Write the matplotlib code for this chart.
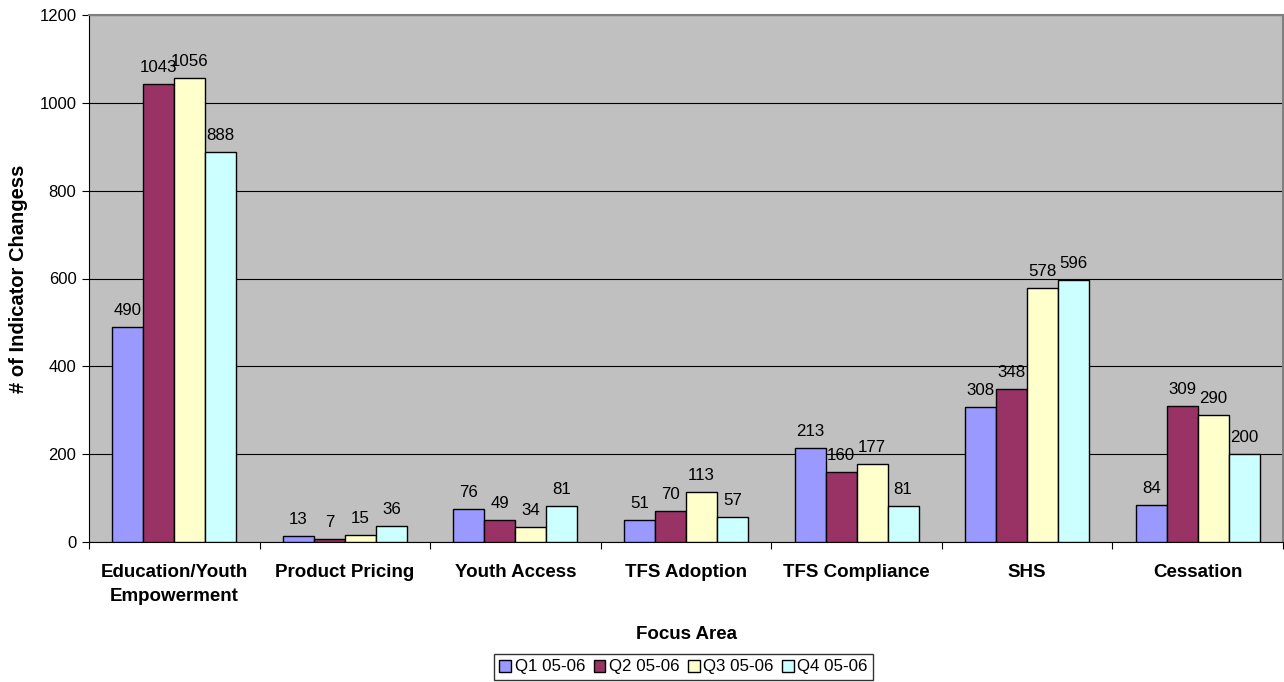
import matplotlib
matplotlib.use("Agg")
import matplotlib.pyplot as plt
import numpy as np

plt.rcParams['font.family'] = ['Liberation Sans', 'DejaVu Sans']

categories = ["Education/Youth\nEmpowerment", "Product Pricing", "Youth Access",
              "TFS Adoption", "TFS Compliance", "SHS", "Cessation"]
series_names = ["Q1 05-06", "Q2 05-06", "Q3 05-06", "Q4 05-06"]
q1 = [490, 13, 76, 51, 213, 308, 84]
q2 = [1043, 7, 49, 70, 160, 348, 309]
q3 = [1056, 15, 34, 113, 177, 578, 290]
q4 = [888, 36, 81, 57, 81, 596, 200]
series_values = [q1, q2, q3, q4]
colors = ["#9999FF", "#993366", "#FFFFCC", "#CCFFFF"]

fig = plt.figure(figsize=(12.84, 6.82), dpi=100)
ax = fig.add_axes([89 / 1284, 1 - 542 / 682, 1194 / 1284, 527 / 682])
ax.set_facecolor("#C0C0C0")

x = np.arange(len(categories))
n = len(series_values)
width = 1.0 / (n + 1.5)

ax.set_axisbelow(True)
ax.yaxis.grid(True, color="black", linewidth=0.8)

for i, (name, vals, col) in enumerate(zip(series_names, series_values, colors)):
    pos = x + (i - (n - 1) / 2) * width
    bars = ax.bar(pos, vals, width=width, color=col, edgecolor="black",
                  linewidth=1.0, label=name, zorder=3)
    for b, v in zip(bars, vals):
        ax.annotate(str(v), (b.get_x() + b.get_width() / 2, v),
                    xytext=(0, 6.5), textcoords="offset points",
                    ha="center", va="bottom", fontsize=12.2, zorder=4)

ax.set_xlim(-0.5, len(categories) - 0.5)
ax.set_ylim(0, 1200)
ax.set_yticks(np.arange(0, 1201, 200))
ax.tick_params(axis="y", labelsize=12, length=5, width=0.8, direction="out", pad=4)

ax.set_xticks(x)
ax.set_xticklabels(categories, fontsize=13.5, fontweight="bold", linespacing=1.55)
ax.tick_params(axis="x", which="major", length=0, pad=16)
ax.set_xticks(np.arange(-0.5, len(categories), 1.0), minor=True)
ax.tick_params(axis="x", which="minor", length=5, width=0.8, direction="out")

for side in ["top", "right"]:
    ax.spines[side].set_color("#808080")
    ax.spines[side].set_linewidth(1.5)
for side in ["left", "bottom"]:
    ax.spines[side].set_color("black")
    ax.spines[side].set_linewidth(0.8)

ax.set_xlabel("Focus Area", fontsize=13.5, fontweight="bold", labelpad=15)
ax.set_ylabel("# of Indicator Changess", fontsize=14.5, fontweight="bold", labelpad=8)

leg = fig.legend(loc="center", bbox_to_anchor=(683.5 / 1284, 1 - 667 / 682),
                 ncol=4, frameon=True, fancybox=False, fontsize=12.2,
                 handlelength=0.7, handleheight=0.7, handletextpad=0.2,
                 columnspacing=0.5, borderpad=0.3, borderaxespad=0)
leg.get_frame().set_edgecolor("black")
leg.get_frame().set_linewidth(1.0)

fig.savefig("out.png", dpi=100)
